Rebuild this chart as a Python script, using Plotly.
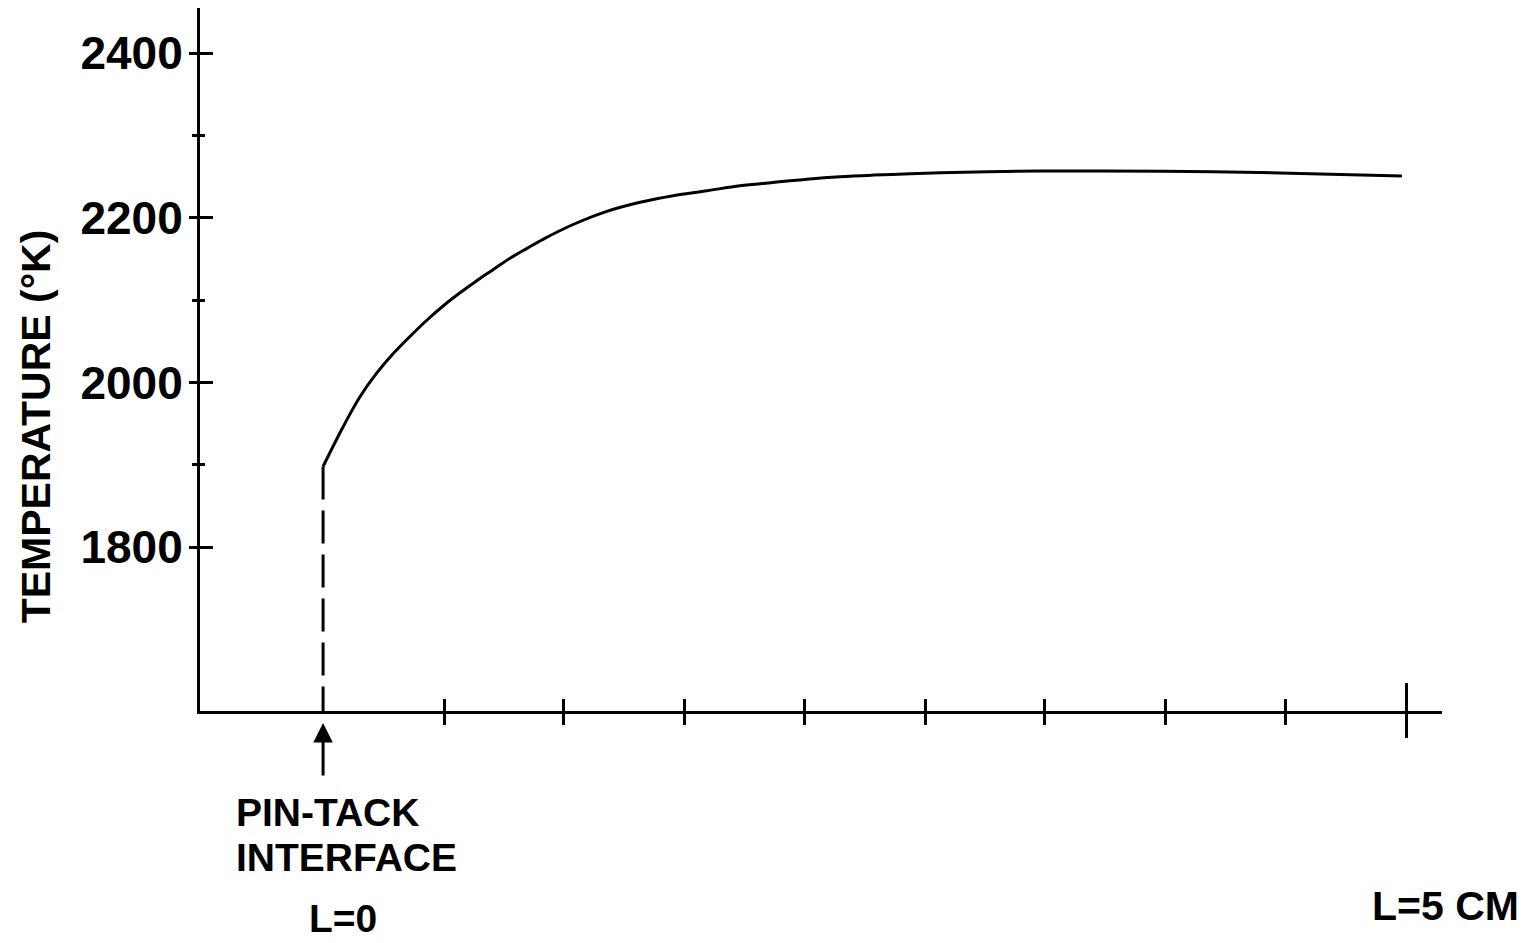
import plotly.graph_objects as go

# distance along the pin (cm) and temperature (K)
dist_cm = [0.0, 0.092, 0.171, 0.249, 0.323, 0.401, 0.480, 0.554, 0.632, 0.711,
           0.784, 0.863, 0.941, 1.015, 1.154, 1.310, 1.463, 1.615, 1.772, 1.924,
           2.076, 2.233, 2.385, 2.538, 2.847, 3.308, 3.585, 4.106, 4.508, 4.979]
temp_k = [1898, 1946, 1983, 2012, 2035, 2056, 2076, 2093, 2109, 2124,
          2137, 2151, 2163, 2174, 2192, 2208, 2219, 2227, 2233, 2239,
          2243, 2247, 2250, 2252, 2255, 2257, 2257, 2256, 2254, 2251]

interface_cm = 0.0
y_major = [1800, 2000, 2200, 2400]
y_minor = [1900, 2100, 2300]
x_minor = [0.56, 1.11, 1.67, 2.22, 2.78, 3.33, 3.89, 4.44]
x_end = [5.0]

x_range = [-0.568, 5.164]
y_range = [1601, 2455]

font = "Liberation Sans"

fig = go.Figure()

# dashed drop line from start of curve to axis
fig.add_trace(go.Scatter(x=[interface_cm, interface_cm], y=[temp_k[0], y_range[0]],
                         mode="lines", line=dict(color="black", width=3, dash="33px,11px"),
                         hoverinfo="skip", showlegend=False))
fig.add_trace(go.Scatter(x=dist_cm, y=temp_k, mode="lines", line_shape="spline",
                         line=dict(color="black", width=3, smoothing=1.0),
                         showlegend=False))
# empty trace so the overlay axes (inner half of crossing ticks) get drawn
fig.add_trace(go.Scatter(x=[], y=[], xaxis="x2", yaxis="y2", showlegend=False))

tick_common = dict(tickcolor="black", tickwidth=3, showgrid=False, zeroline=False)

# page body has an 8px margin, so the figure is 8px smaller than the window
fig.update_layout(
    width=1523, height=935,
    margin=dict(l=192, r=89, t=0, b=232),
    paper_bgcolor="white", plot_bgcolor="white",
    font=dict(family=font, color="black"),
    xaxis=dict(range=x_range, showline=True, linecolor="black", linewidth=3,
               tickmode="array", tickvals=x_end, ticks="outside", ticklen=24,
               showticklabels=False,
               minor=dict(tickmode="array", tickvals=x_minor, ticks="outside",
                          ticklen=11, tickcolor="black", tickwidth=3),
               **tick_common),
    xaxis2=dict(range=x_range, overlaying="x", anchor="y", side="bottom",
                showline=False, tickmode="array", tickvals=x_end, ticks="inside",
                ticklen=28, showticklabels=False,
                minor=dict(tickmode="array", tickvals=x_minor, ticks="inside",
                           ticklen=12, tickcolor="black", tickwidth=3),
                **tick_common),
    yaxis=dict(range=y_range, showline=True, linecolor="black", linewidth=3,
               tickmode="array", tickvals=y_major, ticks="outside", ticklen=8,
               ticklabelstandoff=-3,
               tickfont=dict(family=font, size=46, color="black", weight="bold"),
               minor=dict(tickmode="array", tickvals=y_minor, ticks="outside",
                          ticklen=5, tickcolor="black", tickwidth=3),
               **tick_common),
    yaxis2=dict(range=y_range, overlaying="y", anchor="x", side="left",
                showline=False, tickmode="array", tickvals=y_major, ticks="inside",
                ticklen=13, showticklabels=False,
                minor=dict(tickmode="array", tickvals=y_minor, ticks="inside",
                           ticklen=5, tickcolor="black", tickwidth=3),
                **tick_common),
)

ann_font = dict(family=font, size=39, color="black", weight="bold")
fig.add_annotation(text="TEMPERATURE (°K)", textangle=-90, xref="paper", yref="paper",
                   x=-0.132, y=0.405, xanchor="center", yanchor="middle",
                   showarrow=False, font=dict(family=font, size=41, color="black", weight="bold"))
fig.add_annotation(text="PIN-TACK", xref="paper", yref="paper", x=0.027, y=-0.144,
                   xanchor="left", yanchor="middle", showarrow=False, font=ann_font)
fig.add_annotation(text="INTERFACE", xref="paper", yref="paper", x=0.027, y=-0.208,
                   xanchor="left", yanchor="middle", showarrow=False, font=ann_font)
fig.add_annotation(text="L=0", xref="paper", yref="paper", x=0.086, y=-0.2945,
                   xanchor="left", yanchor="middle", showarrow=False, font=ann_font)
fig.add_annotation(text="L=5 CM", xref="paper", yref="paper", x=0.942, y=-0.277,
                   xanchor="left", yanchor="middle", showarrow=False,
                   font=dict(family=font, size=41, color="black", weight="bold"))
# arrow pointing up at the interface
fig.add_annotation(text="", x=interface_cm, xref="x", y=-0.017, yref="paper",
                   showarrow=True, ax=0, ay=54, arrowhead=2, arrowsize=1.3,
                   arrowwidth=3, arrowcolor="black", standoff=0)

fig.write_html("out.html")
